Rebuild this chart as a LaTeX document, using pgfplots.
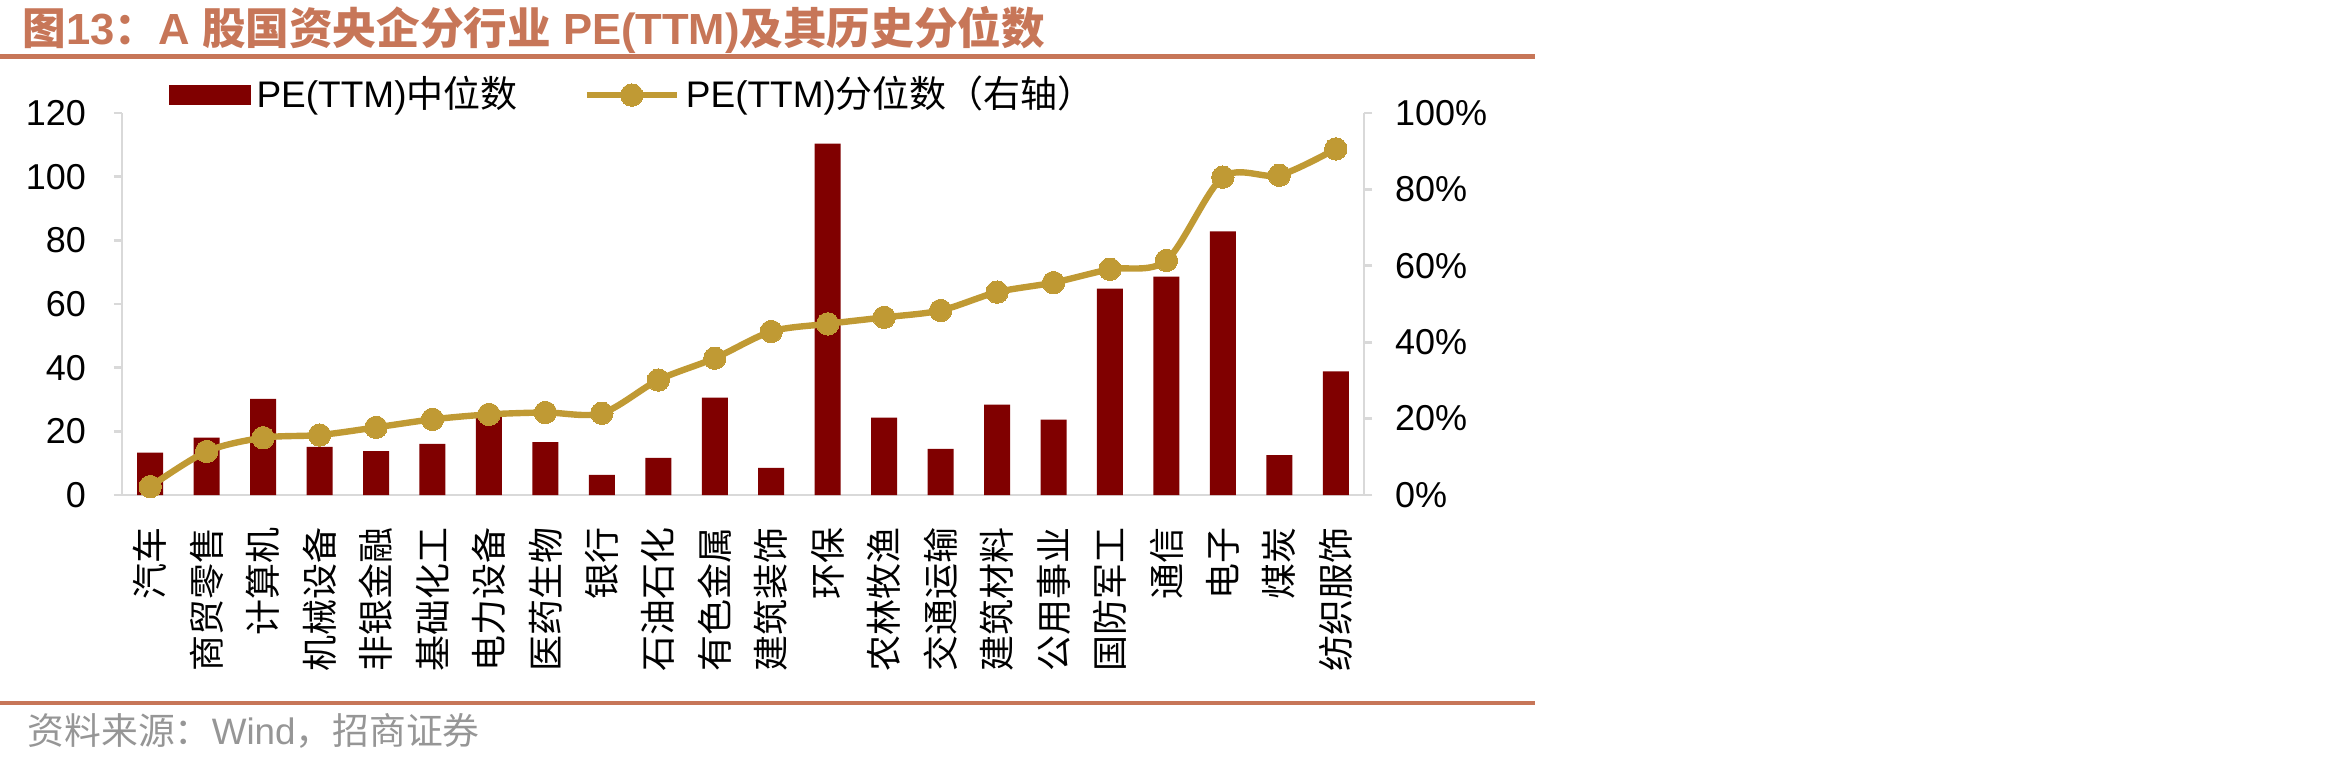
\documentclass[border=0pt]{standalone}
\usepackage{fontspec}
\setmainfont{Liberation Sans}
\newfontfamily\cjk{Noto Sans CJK SC}
\usepackage{pgfplots}
\pgfplotsset{compat=1.18}

\definecolor{barred}{RGB}{128,0,0}
\definecolor{gold}{RGB}{192,154,52}
\definecolor{axisgray}{RGB}{217,217,217}
\definecolor{titlecol}{RGB}{199,118,88}
\definecolor{srcgray}{RGB}{150,150,150}

% PE(TTM) median by industry (left axis)
\pgfplotstableread{
x  pe
0  13.3
1  18.0
2  30.2
3  15.1
4  13.8
5  16.1
6  25.0
7  16.6
8  6.3
9  11.7
10 30.6
11 8.5
12 110.4
13 24.3
14 14.5
15 28.4
16 23.7
17 64.8
18 68.6
19 82.8
20 12.5
21 38.8
}\petable

% historical percentile of PE(TTM), in percent (right axis)
\pgfplotstableread{
x  pct
0  2.2
1  11.4
2  15.0
3  15.7
4  17.7
5  19.8
6  21.1
7  21.6
8  21.4
9  30.1
10 35.8
11 42.8
12 44.8
13 46.5
14 48.3
15 53.1
16 55.6
17 59.1
18 61.4
19 83.2
20 83.7
21 90.6
}\pcttable

\begin{document}
\begin{tikzpicture}
\path[use as bounding box] (0pt,0pt) rectangle (587.5pt,190.75pt);

% heading and rules
\node[anchor=west, inner sep=0pt, text=titlecol, font=\bfseries\fontsize{10.9}{12}\selectfont]
  at (5.5pt,183.25pt) {{\cjk 图}13{\cjk ：}A {\cjk 股国资央企分行业} PE(TTM){\cjk 及其历史分位数}};
\draw[titlecol, line width=1.25pt] (0pt,176.75pt) -- (383.75pt,176.75pt);
\draw[titlecol, line width=1pt] (0pt,15pt) -- (383.75pt,15pt);
\node[anchor=west, inner sep=0pt, text=srcgray, font=\fontsize{9.2}{10}\selectfont]
  at (6.75pt,8pt) {{\cjk 资料来源：}Wind{\cjk ，招商证券}};

\pgfplotsset{
  commonaxis/.style={
    at={(30.5pt,67pt)}, anchor=south west,
    scale only axis, width=310.5pt, height=95.5pt,
    xmin=-0.5, xmax=21.5,
    axis line style={draw=axisgray, line width=0.7pt, -},
    tick align=outside, major tick length=2pt,
    /pgf/number format/assume math mode=true,
    tick label style={font=\fontsize{9}{10}\selectfont},
  }
}

% bars: median PE
\begin{axis}[
  commonaxis,
  ymin=0, ymax=120,
  axis x line*=bottom, axis y line*=left,
  ytick={0,20,...,120},
  yticklabel style={xshift=-3.5pt},
  y tick style={draw=axisgray, line width=0.7pt},
  xtick={0,...,21},
  major x tick style={draw=none},
  xticklabels={汽车,商贸零售,计算机,机械设备,非银金融,基础化工,电力设备,医药生物,银行,石油石化,有色金属,建筑装饰,环保,农林牧渔,交通运输,建筑材料,公用事业,国防军工,通信,电子,煤炭,纺织服饰},
  xticklabel style={yshift=-6pt, rotate=90, anchor=east, inner sep=0pt,
    font=\cjk\fontsize{9}{9}\selectfont},
  ybar, bar width=6.5pt,
]
\addplot[fill=barred, draw=none] table[x=x, y=pe] {\petable};
\end{axis}

% line: percentile, right axis
\begin{axis}[
  commonaxis,
  ymin=0, ymax=100,
  axis x line=none, axis y line*=right,
  ytick={0,20,...,100},
  yticklabel={\pgfmathprintnumber{\tick}\%},
  yticklabel style={xshift=2.25pt},
  y tick style={draw=axisgray, line width=0.7pt},
  legend columns=2,
  legend cell align=left,
  legend image code/.code={\draw[mark repeat=2, mark phase=2, #1] plot coordinates {(0pt,0pt) (11.25pt,0pt) (22.5pt,0pt)};},
  legend style={at={(0.0378,1.047)}, anchor=west, draw=none, fill=none,
    inner sep=0pt, outer sep=0pt,
    font=\fontsize{9.25}{10}\selectfont,
    nodes={inner sep=0pt},
    /tikz/every odd column/.append style={column sep=1.5pt},
    /tikz/every even column/.append style={column sep=16.5pt}},
]
\addlegendimage{legend image code/.code={\fill[barred] (0pt,-2.375pt) rectangle (20pt,2.375pt);}}
\addlegendentry{PE(TTM){\cjk 中位数}}
\addplot[color=gold, line width=1.6pt, smooth, tension=0.5,
  mark=*, mark size=2.8pt, mark options={fill=gold, draw=gold, line width=0pt}]
  table[x=x, y=pct] {\pcttable};
\addlegendentry{PE(TTM){\cjk 分位数（右轴）}}
\end{axis}
\end{tikzpicture}
\end{document}
